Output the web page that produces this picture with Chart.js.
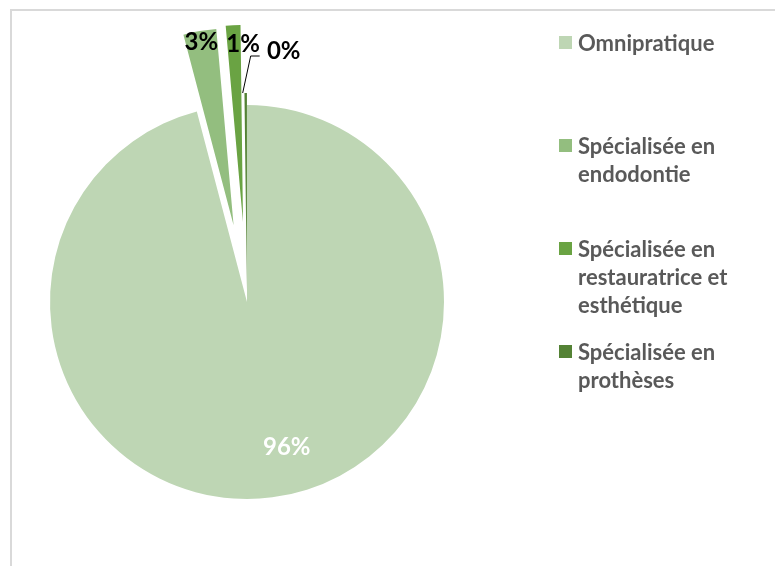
<!DOCTYPE html>
<html>
<head>
<meta charset="utf-8">
<script src="https://cdn.jsdelivr.net/npm/chart.js@4.4.0/dist/chart.umd.min.js"></script>
<style>
  html, body { margin: 0; padding: 0; background: #fff; }
  #wrap { width: 775px; height: 566px; }
</style>
</head>
<body>
<div id="wrap"><canvas id="pieChart" width="775" height="566"></canvas></div>
<script>
const categories = [
  'Omnipratique',
  'Spécialisée en endodontie',
  'Spécialisée en restauratrice et esthétique',
  'Spécialisée en prothèses'
];
const shares = [95.9, 2.7, 1.2, 0.2];
const percentLabels = ['96%', '3%', '1%', '0%'];

const sliceColors = ['#bed6b4', '#93be7f', '#6aa343', '#548235'];
// how far each slice is pulled out of the pie (px)
const explode = [0, 78, 80, 12];

const FONT = 'Lato, "Liberation Sans", sans-serif';
const ctx = document.getElementById('pieChart').getContext('2d');

// light grey chart frame
const framePlugin = {
  id: 'frame',
  beforeDraw(chart) {
    const c = chart.ctx;
    c.save();
    c.strokeStyle = '#d9d9d9';
    c.lineWidth = 2;
    c.strokeRect(11, 10, 800, 600);
    c.restore();
  }
};

// draw the arcs ourselves so each one can be moved out without changing its radius
const explodePlugin = {
  id: 'explode',
  beforeDatasetDraw(chart, args) {
    const c = chart.ctx;
    args.meta.data.forEach((arc, i) => {
      const mid = (arc.startAngle + arc.endAngle) / 2;
      c.save();
      c.translate(Math.cos(mid) * explode[i], Math.sin(mid) * explode[i]);
      arc.draw(c);
      c.restore();
    });
    return false;
  }
};

// percent labels
const labelStyle = [
  { color: '#ffffff', dist: 0.76, turn: -0.14, dx: 0, dy: 0 },
  { color: '#000000', dist: 0.95, turn: 0, dx: 0, dy: 0 },
  { color: '#000000', dist: 0.90, turn: 0, dx: 9, dy: -2 },
  { color: '#000000', dist: 1.0, turn: 0, dx: 38, dy: -43, leader: true }
];

const labelPlugin = {
  id: 'pctLabels',
  afterDatasetsDraw(chart) {
    const c = chart.ctx;
    const meta = chart.getDatasetMeta(0);
    c.save();
    c.font = 'bold 24px ' + FONT;
    c.textAlign = 'center';
    c.textBaseline = 'middle';
    meta.data.forEach((arc, i) => {
      const st = labelStyle[i];
      const mid = (arc.startAngle + arc.endAngle) / 2;
      const ang = mid + st.turn;
      const d = explode[i] + arc.outerRadius * st.dist;
      const px = arc.x + Math.cos(ang) * d;
      const py = arc.y + Math.sin(ang) * d;
      const lx = px + st.dx;
      const ly = py + st.dy;
      if (st.leader) {
        c.strokeStyle = '#000';
        c.lineWidth = 1;
        c.beginPath();
        c.moveTo(px - 3, py);
        c.lineTo(lx - 33, ly + 6);
        c.lineTo(lx - 24, ly + 6);
        c.stroke();
      }
      c.fillStyle = st.color;
      c.fillText(percentLabels[i], lx, ly + 1);
    });
    c.restore();
  }
};

// legend on the right, wrapped like the original
const legendPlugin = {
  id: 'sideLegend',
  afterDraw(chart) {
    const c = chart.ctx;
    const left = 559, top = 43, step = 103, lineH = 28, maxW = 170;
    c.save();
    c.font = 'bold 22px ' + FONT;
    c.textBaseline = 'middle';
    c.textAlign = 'left';
    categories.forEach((name, i) => {
      const words = name.split(' ');
      const lines = [];
      let cur = '';
      words.forEach(w => {
        const test = cur ? cur + ' ' + w : w;
        if (cur && c.measureText(test).width > maxW) {
          lines.push(cur);
          cur = w;
        } else {
          cur = test;
        }
      });
      lines.push(cur);
      const y0 = top + i * step;
      c.fillStyle = sliceColors[i];
      c.fillRect(left, y0 - 7, 13, 13);
      c.fillStyle = '#595959';
      lines.forEach((ln, k) => c.fillText(ln, left + 19, y0 + k * lineH + 1));
    });
    c.restore();
  }
};

new Chart(ctx, {
  type: 'pie',
  data: {
    labels: categories,
    datasets: [{
      data: shares,
      backgroundColor: sliceColors,
      borderWidth: 0
    }]
  },
  options: {
    responsive: false,
    animation: false,
    events: [],
    radius: 197,
    layout: { padding: { left: 20, right: 301, top: 60, bottom: 22 } },
    plugins: {
      legend: { display: false },
      tooltip: { enabled: false }
    }
  },
  plugins: [framePlugin, explodePlugin, labelPlugin, legendPlugin]
});
</script>
</body>
</html>
